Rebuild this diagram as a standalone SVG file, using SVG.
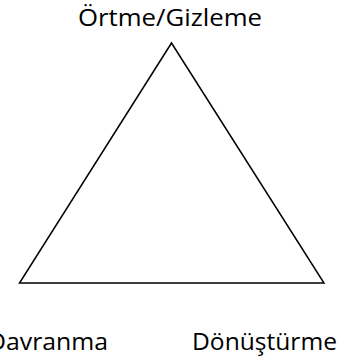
<svg xmlns="http://www.w3.org/2000/svg" width="360" height="363" viewBox="0 0 360 363">
<style>
.lbl{font-family:"Open Sans","Noto Sans","Liberation Sans",sans-serif;font-size:24px;fill:#000}
.edge{fill:none;stroke:#000;stroke-width:1.5}
</style>
<rect width="360" height="363" fill="#fff"/>
<g id="connectors">
<polygon class="edge" points="171.5,43 19.5,283 324,283"/>
</g>
<g id="node-ortme"><text class="lbl" x="78" y="26" textLength="184" lengthAdjust="spacingAndGlyphs">Örtme/Gizleme</text></g>
<g id="node-davranma"><text class="lbl" x="-12" y="350" textLength="120" lengthAdjust="spacingAndGlyphs">Davranma</text></g>
<g id="node-donusturme"><text class="lbl" x="192" y="350" textLength="145" lengthAdjust="spacingAndGlyphs">Dönüştürme</text></g>
</svg>
